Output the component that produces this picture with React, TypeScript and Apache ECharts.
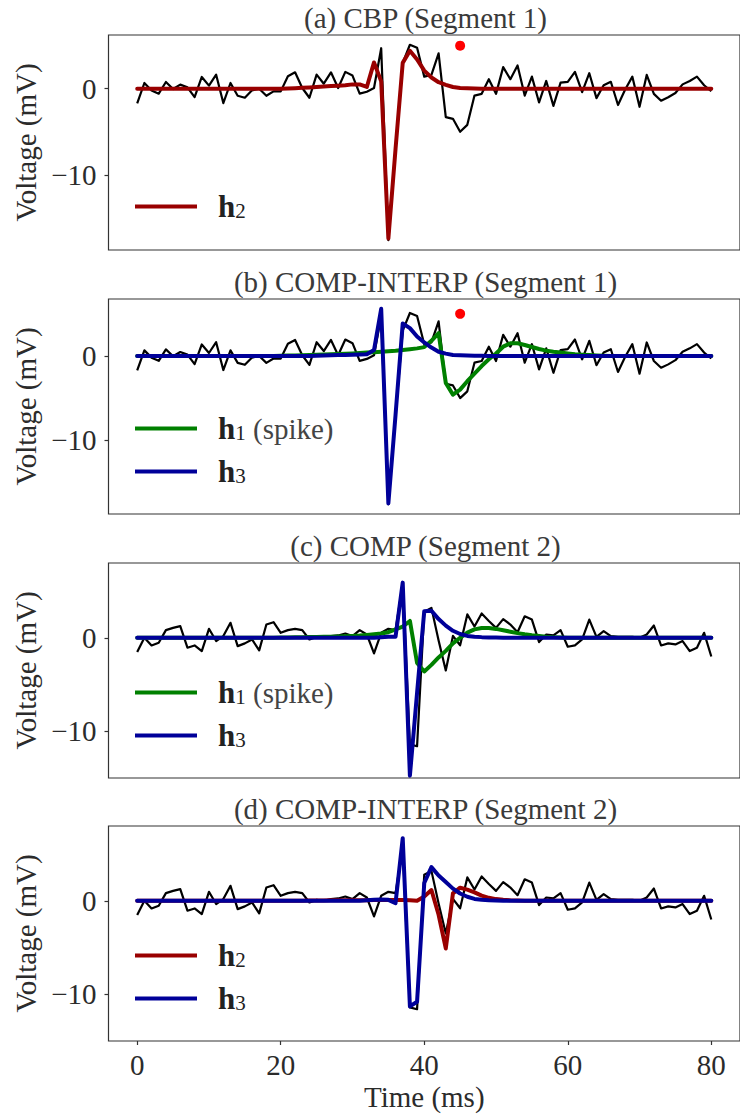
import { useEffect, useRef } from 'react';
import * as echarts from 'echarts';

// ---------------- data ----------------
// Recorded traces, one sample per ms, t = 0 .. 80 ms
const SEG1 = [
  -1.7, 0.66, -0.2, -0.58, 0.78, -0.04, 0.47, 0.16, -0.97, 1.36,
  0.35, 1.63, -1.67, 0.66, -0.82, -1.05, -0.19, 0.0, -0.82, -0.31,
  -0.31, 1.44, 1.9, 0.08, -1.05, 1.63, 0.58, 1.9, 0.08, 1.95,
  1.52, -0.58, -0.35, 0.08, 4.7, -17.6, -7.0, 3.0, 5.1, 4.75,
  1.4, 1.6, 4.1, -3.3, -3.5, -5.0, -4.2, -0.8, -0.6, 1.1,
  -0.6, 2.5, 1.1, 2.7, -0.8, 1.4, -1.6, 0.9, -2.0, 0.7,
  0.8, 1.95, -0.4, 1.8, -1.1, 0.4, 0.8, -1.9, -0.1, 1.4,
  -2.1, 1.6, -0.6, -1.4, -1.0, -0.5, 0.5, 0.9, 1.4, 0.4,
  -0.3,
];
const SEG2 = [
  -1.52, 0.0, -0.82, -0.53, 0.82, 1.06, 1.24, -1.06, -0.82, -1.42,
  0.96, -0.35, 0.18, 1.6, -0.89, -0.6, -0.18, -1.35, 1.42, 1.67,
  0.53, 0.82, 0.96, 0.82, -0.18, 0.1, 0.0, 0.18, 0.25, 0.46,
  0.18, 0.82, 0.35, -1.67, 0.53, 0.96, 0.82, 5.8, -11.4, -11.6,
  2.8, 3.2, -0.3, -3.5, 0.2, -0.8, 2.5, 1.2, 2.6, 1.8,
  1.06, 2.0, 1.42, 0.6, 2.3, 1.95, -0.46, 0.35, 0.25, 0.82,
  -0.96, -0.82, -0.18, 1.95, 0.1, 0.71, 0.18, 0.1, 0.1, 0.1,
  0.0, 0.35, 1.31, -0.82, -0.6, -0.71, -0.35, -1.42, -1.06, 0.53,
  -2.0,
];
// Fitted components
const A_H2 = [
  0, 0, 0, 0, 0, 0, 0, 0, 0, 0,
  0, 0, 0, 0, 0, 0, 0, 0, 0, 0,
  0, 0.03, 0.06, 0.1, 0.15, 0.2, 0.25, 0.3, 0.35, 0.4,
  0.5, 0.5, 0.2, 3.05, 0.85, -17.4, -7.0, 3.0, 4.4, 3.4,
  2.1, 1.3, 0.75, 0.45, 0.2, 0.08, 0.05, 0.03, 0, 0,
  0, 0, 0, 0, 0, 0, 0, 0, 0, 0,
  0, 0, 0, 0, 0, 0, 0, 0, 0, 0,
  0, 0, 0, 0, 0, 0, 0, 0, 0, 0,
  0,
];
const B_H1 = [
  0, 0, 0, 0, 0, 0, 0, 0, 0, 0,
  0, 0, 0, 0, 0, 0, 0, 0, 0, 0,
  0.02, 0.04, 0.06, 0.08, 0.1, 0.13, 0.16, 0.19, 0.22, 0.26,
  0.3, 0.35, 0.4, 0.45, 0.5, 0.56, 0.62, 0.7, 0.8, 0.9,
  1.05, 1.8, 2.7, -3.2, -4.6, -4.0, -3.0, -2.1, -1.2, -0.4,
  0.3, 1.1, 1.5, 1.5, 1.3, 1.06, 0.83, 0.63, 0.5, 0.4,
  0.3, 0.2, 0.15, 0.1, 0.06, 0.03, 0, 0, 0, 0,
  0, 0, 0, 0, 0, 0, 0, 0, 0, 0,
  0,
];
const B_H3 = [
  0, 0, 0, 0, 0, 0, 0, 0, 0, 0,
  0, 0, 0, 0, 0, 0, 0, 0, 0, 0,
  0, 0, 0, 0, 0, 0.03, 0.05, 0.08, 0.1, 0.12,
  0.15, 0.18, 0.2, 0.7, 5.6, -17.5, -7.0, 3.85, 3.3, 2.3,
  1.6, 1.0, 0.5, 0.28, 0.12, 0.08, 0.05, 0.03, 0.02, 0,
  0, 0, 0, 0, 0, 0, 0, 0, 0, 0,
  0, 0, 0, 0, 0, 0, 0, 0, 0, 0,
  0, 0, 0, 0, 0, 0, 0, 0, 0, 0,
  0,
];
const C_H1 = [
  0, 0, 0, 0, 0, 0, 0, 0, 0, 0,
  0, 0, 0, 0, 0, 0, 0, 0, 0, 0,
  0.02, 0.04, 0.05, 0.06, 0.08, 0.09, 0.1, 0.12, 0.15, 0.17,
  0.2, 0.24, 0.3, 0.37, 0.45, 0.6, 0.9, 1.2, 1.8, -2.7,
  -3.6, -2.9, -2.1, -1.4, -0.6, 0.0, 0.55, 0.9, 1.05, 1.05,
  0.95, 0.8, 0.65, 0.5, 0.38, 0.28, 0.2, 0.12, 0.07, 0.03,
  0, 0, 0, 0, 0, 0, 0, 0, 0, 0,
  0, 0, 0, 0, 0, 0, 0, 0, 0, 0,
  0,
];
const C_H3 = [
  0, 0, 0, 0, 0, 0, 0, 0, 0, 0,
  0, 0, 0, 0, 0, 0, 0, 0, 0, 0,
  0, 0, 0, 0, 0, 0, 0, 0, 0, 0,
  0, 0, 0, 0, 0.05, 0.1, 0.1, 5.9, -14.75, -5.9,
  2.85, 2.9, 2.0, 1.3, 0.75, 0.4, 0.2, 0.12, 0.07, 0.04,
  0.02, 0, 0, 0, 0, 0, 0, 0, 0, 0,
  0, 0, 0, 0, 0, 0, 0, 0, 0, 0,
  0, 0, 0, 0, 0, 0, 0, 0, 0, 0,
  0,
];
const D_H2 = [
  0, 0, 0, 0, 0, 0, 0, 0, 0, 0,
  0, 0, 0, 0, 0, 0, 0, 0, 0, 0,
  0, 0, 0, 0, 0.02, 0.03, 0.04, 0.05, 0.05, 0.06,
  0.06, 0.07, 0.07, 0.08, 0.08, 0.08, 0.08, 0.08, 0.05, 0.0,
  0.45, 1.15, -1.5, -5.1, 0.8, 1.4, 1.2, 0.9, 0.55, 0.32,
  0.18, 0.1, 0.05, 0.02, 0, 0, 0, 0, 0, 0,
  0, 0, 0, 0, 0, 0, 0, 0, 0, 0,
  0, 0, 0, 0, 0, 0, 0, 0, 0, 0,
  0,
];
const D_H3 = [
  0, 0, 0, 0, 0, 0, 0, 0, 0, 0,
  0, 0, 0, 0, 0, 0, 0, 0, 0, 0,
  0, 0, 0, 0, 0, 0, 0, 0, 0, 0,
  0, 0, 0.05, 0.1, 0.15, 0.1, -0.25, 6.7, -11.3, -10.8,
  1.9, 3.6, 2.7, 2.0, 1.3, 0.78, 0.43, 0.2, 0.1, 0.05,
  0.02, 0, 0, 0, 0, 0, 0, 0, 0, 0,
  0, 0, 0, 0, 0, 0, 0, 0, 0, 0,
  0, 0, 0, 0, 0, 0, 0, 0, 0, 0,
  0,
];
// Red marker (time ms, voltage mV) in panels (a) and (b)
const MARK_T = [45];
const MARK_V = [5];

const TITLES = [
  '(a) CBP (Segment 1)',
  '(b) COMP-INTERP (Segment 1)',
  '(c) COMP (Segment 2)',
  '(d) COMP-INTERP (Segment 2)',
];
const X_TICKS = [0, 20, 40, 60, 80];
const Y_TICKS = [-10, 0];
const Y_LIMITS: (number[] | null)[] = [null, null, [-15, 8], [-15, 8]];

// ---------------- styling ----------------
const FONT = "'Liberation Serif', 'DejaVu Serif', serif";
const TXT = '#2b2b2b';
const RED = '#990000';
const GREEN = '#008000';
const BLUE = '#000099';
const FS = 29;

const GRID_LEFT = 108.5;
const GRID_W = 634;
const GRID_TOPS = [35, 299, 563, 826];
const GRID_H = 215;

type Fit = { key: string; data: number[]; color: string; label: string };
const PANELS: { trace: number[]; fits: Fit[]; marker: boolean }[] = [
  { trace: SEG1, fits: [{ key: 'a_h2', data: A_H2, color: RED, label: '{g| }{h|h}{s|2}' }], marker: true },
  {
    trace: SEG1,
    fits: [
      { key: 'b_h1', data: B_H1, color: GREEN, label: '{g| }{h|h}{s|1}{n| (spike)}' },
      { key: 'b_h3', data: B_H3, color: BLUE, label: '{g| }{h|h}{s|3}' },
    ],
    marker: true,
  },
  {
    trace: SEG2,
    fits: [
      { key: 'c_h1', data: C_H1, color: GREEN, label: '{g| }{h|h}{s|1}{n| (spike)}' },
      { key: 'c_h3', data: C_H3, color: BLUE, label: '{g| }{h|h}{s|3}' },
    ],
    marker: false,
  },
  {
    trace: SEG2,
    fits: [
      { key: 'd_h2', data: D_H2, color: RED, label: '{g| }{h|h}{s|2}' },
      { key: 'd_h3', data: D_H3, color: BLUE, label: '{g| }{h|h}{s|3}' },
    ],
    marker: false,
  },
];

const toPairs = (arr: number[]) => arr.map((v, i) => [i, v]);
const fmtMinus = (v: number) => (v < 0 ? '\u2212' + Math.abs(v) : String(v));

function buildOption() {
  const grid: any[] = [];
  const xAxis: any[] = [];
  const yAxis: any[] = [];
  const series: any[] = [];
  const legend: any[] = [];
  const graphic: any[] = [];
  const labelMap: Record<string, string> = {};

  PANELS.forEach((p, i) => {
    const last = i === PANELS.length - 1;
    grid.push({
      left: GRID_LEFT,
      top: GRID_TOPS[i],
      width: GRID_W,
      height: GRID_H,
      show: true,
      borderColor: '#333',
      borderWidth: 1.2,
      backgroundColor: 'transparent',
    });
    xAxis.push({
      type: 'value',
      gridIndex: i,
      position: 'bottom',
      min: -4,
      max: 84,
      splitLine: { show: false },
      axisLine: { show: false, onZero: false },
      axisTick: last
        ? { show: true, customValues: X_TICKS, length: 4, lineStyle: { color: '#333', width: 1.2 } }
        : { show: false },
      axisLabel: last
        ? { show: true, customValues: X_TICKS, margin: 9, color: TXT, fontFamily: FONT, fontSize: FS }
        : { show: false },
      name: last ? 'Time (ms)' : '',
      nameLocation: 'middle',
      nameGap: 41,
      nameTextStyle: { color: TXT, fontFamily: FONT, fontSize: FS },
    });
    const lim = Y_LIMITS[i];
    yAxis.push({
      type: 'value',
      gridIndex: i,
      position: 'left',
      min: lim ? lim[0] : (v: any) => v.min - 0.05 * (v.max - v.min),
      max: lim ? lim[1] : (v: any) => v.max + 0.05 * (v.max - v.min),
      splitLine: { show: false },
      axisLine: { show: false, onZero: false },
      axisTick: { show: true, customValues: Y_TICKS, length: 4, lineStyle: { color: '#333', width: 1.2 } },
      axisLabel: {
        show: true,
        customValues: Y_TICKS,
        margin: 12,
        color: TXT,
        fontFamily: FONT,
        fontSize: FS,
        formatter: fmtMinus,
      },
      name: 'Voltage (mV)',
      nameLocation: 'middle',
      nameGap: 64,
      nameTextStyle: { color: TXT, fontFamily: FONT, fontSize: FS },
    });
    series.push({
      type: 'line',
      name: 'trace_' + i,
      xAxisIndex: i,
      yAxisIndex: i,
      data: toPairs(p.trace),
      symbol: 'none',
      silent: true,
      lineStyle: { color: '#000', width: 2.2, join: 'round' },
      z: 2,
    });
    p.fits.forEach((f, j) => {
      labelMap[f.key] = f.label;
      series.push({
        type: 'line',
        name: f.key,
        xAxisIndex: i,
        yAxisIndex: i,
        data: toPairs(f.data),
        symbol: 'none',
        silent: true,
        color: f.color,
        lineStyle: { color: f.color, width: 4, join: 'round', cap: 'round' },
        itemStyle: { color: f.color },
        z: 3 + j,
      });
    });
    if (p.marker) {
      series.push({
        type: 'scatter',
        name: 'mark_' + i,
        xAxisIndex: i,
        yAxisIndex: i,
        data: MARK_T.map((t, k) => [t, MARK_V[k]]),
        symbol: 'circle',
        symbolSize: 10,
        silent: true,
        itemStyle: { color: '#ff0000', opacity: 1 },
        z: 6,
      });
    }
    const nItems = p.fits.length;
    legend.push({
      data: p.fits.map((f) => ({ name: f.key, icon: 'rect' })),
      orient: 'vertical',
      left: 135,
      top: GRID_TOPS[i] + GRID_H - 44 - 42 * (nItems - 1) - 15,
      padding: 0,
      itemWidth: 62,
      itemHeight: 4,
      itemGap: 12,
      selectedMode: false,
      formatter: (name: string) => labelMap[name] || name,
      textStyle: {
        color: TXT,
        fontFamily: FONT,
        rich: {
          g: { width: 16, fontSize: 10, lineHeight: 30 },
          h: { fontFamily: FONT, fontSize: 31, fontWeight: 'bold', color: '#222', lineHeight: 30 },
          s: { fontFamily: FONT, fontSize: 21, color: '#222', verticalAlign: 'bottom' },
          n: { fontFamily: FONT, fontSize: FS, color: '#444', lineHeight: 30 },
        },
      },
    });
    graphic.push({
      type: 'text',
      x: GRID_LEFT + GRID_W / 2,
      y: GRID_TOPS[i] - 17,
      silent: true,
      style: {
        text: TITLES[i],
        fill: '#3a3a3a',
        font: `${FS}px ${FONT}`,
        textAlign: 'center',
        textVerticalAlign: 'middle',
      },
    });
  });

  return { animation: false, backgroundColor: '#fff', grid, xAxis, yAxis, series, legend, graphic };
}

export default function App() {
  const ref = useRef<HTMLDivElement>(null);
  useEffect(() => {
    if (!ref.current) return;
    const chart = echarts.init(ref.current, undefined, { renderer: 'svg' });
    chart.setOption(buildOption() as any);
    return () => chart.dispose();
  }, []);
  return (
    <div
      ref={ref}
      style={{ position: 'fixed', left: 0, top: 0, width: 740, height: 1116, background: '#fff' }}
    />
  );
}
